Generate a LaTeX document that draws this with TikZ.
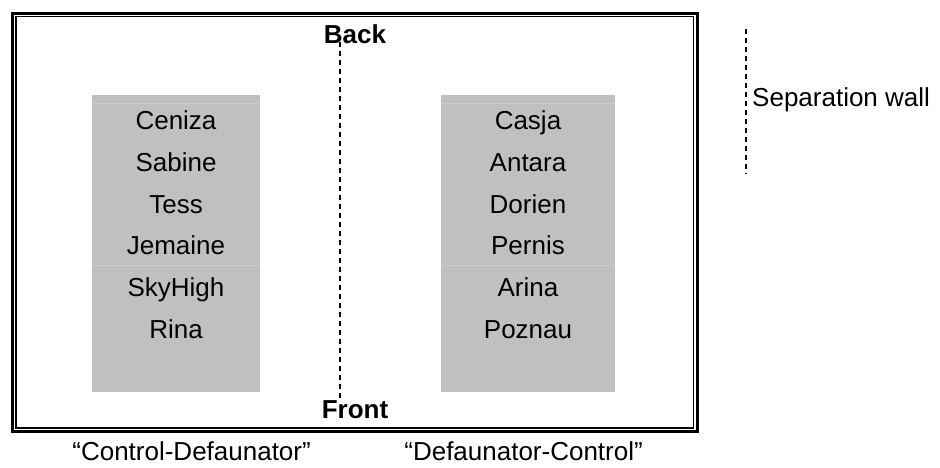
\documentclass[tikz,border=0pt]{standalone}
\usepackage{fontspec}
\setmainfont{Liberation Sans}
\definecolor{boxgray}{HTML}{C0C0C0}
\definecolor{rulegray}{HTML}{CDCDCD}
\begin{document}
\begin{tikzpicture}[x=1pt,y=-1pt,
  txt/.style={inner sep=0pt,anchor=base,font=\fontsize{26}{30}\selectfont},
  bold/.style={txt,font=\fontsize{26}{30}\selectfont\bfseries},
  wall/.style={line width=1.5pt,dash pattern=on 5pt off 4pt}]
\useasboundingbox (0,0) rectangle (940,468);

% thick-thin double frame
\draw[line width=3pt] (12.5,13.5) rectangle (697.5,431.5);
\draw[line width=1.2pt] (16,16.5) rectangle (693.5,428);

% the two pens
\fill[boxgray] (92,95) rectangle (260,392);
\fill[boxgray] (441,95) rectangle (615,392);
\foreach \yy in {103,265}{
  \draw[rulegray,line width=0.8pt] (92,\yy) -- (260,\yy);
  \draw[rulegray,line width=0.8pt] (441,\yy) -- (615,\yy);
}

% left pen names
\node[txt] (l1) at (176,130) {Ceniza};
\node[txt] (l2) at (176,171.6) {Sabine};
\node[txt] (l3) at (176,213.2) {Tess};
\node[txt] (l4) at (176,254.8) {Jemaine};
\node[txt] (l5) at (176,296.4) {SkyHigh};
\node[txt] (l6) at (176,338) {Rina};

% right pen names
\node[txt] (r1) at (528,130) {Casja};
\node[txt] (r2) at (528,171.6) {Antara};
\node[txt] (r3) at (528,213.2) {Dorien};
\node[txt] (r4) at (528,254.8) {Pernis};
\node[txt] (r5) at (528,296.4) {Arina};
\node[txt] (r6) at (528,338) {Poznau};

% separation wall between the pens
\node[bold] (back) at (355,44) {Back};
\node[bold] (front) at (355,418) {Front};
\coordinate (walltop) at (340,42);
\coordinate (wallbot) at (340,398);
\draw[wall] (walltop) -- (wallbot);

% legend
\coordinate (legtop) at (746,29);
\coordinate (legbot) at (746,174);
\draw[wall] (legtop) -- (legbot);
\node[txt,anchor=base west] (legend) at (752,107) {Separation wall};

% treatment labels
\node[txt,anchor=base east] (cd) at (311,460) {“Control-Defaunator”};
\node[txt,anchor=base east] (dc) at (643,460) {“Defaunator-Control”};
\end{tikzpicture}
\end{document}
